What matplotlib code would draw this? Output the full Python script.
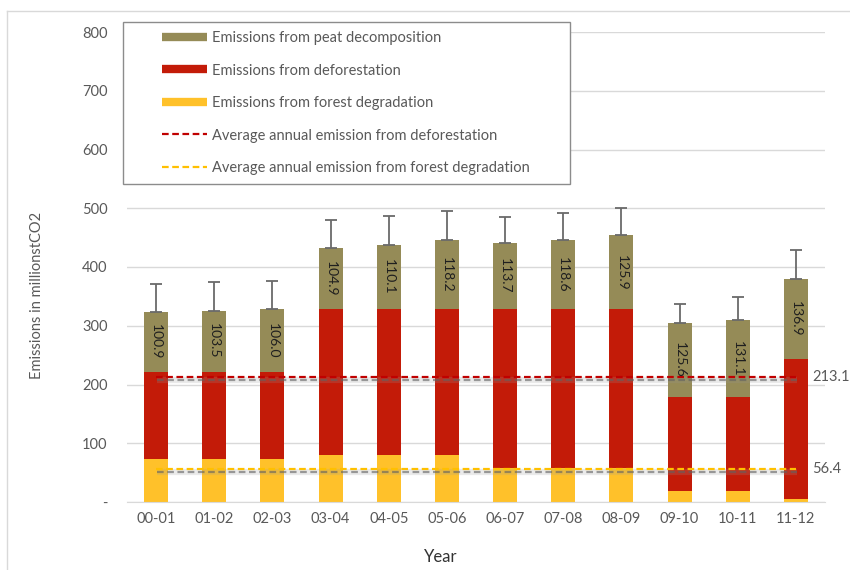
import matplotlib.pyplot as plt
import matplotlib.transforms as mtransforms
from matplotlib.lines import Line2D
from matplotlib.patches import Rectangle

plt.rcParams['font.family'] = ['Lato', 'DejaVu Sans']

years = ['00-01', '01-02', '02-03', '03-04', '04-05', '05-06',
         '06-07', '07-08', '08-09', '09-10', '10-11', '11-12']
degradation = [74, 74, 74, 80, 80, 80, 58, 58, 58, 18, 18, 5]
deforestation = [148, 148, 148, 248, 248, 248, 270, 270, 270, 161, 161, 238]
peat = [100.9, 103.5, 106.0, 104.9, 110.1, 118.2, 113.7, 118.6, 125.9, 125.6, 131.1, 136.9]
peat_err = [49, 49, 49, 47, 49, 49, 43, 45, 47, 32, 39, 49]
avg_deforestation = 213.1
avg_degradation = 56.4
y_ticks = [0, 100, 200, 300, 400, 500, 600, 700, 800]
y_ticklabels = ['-', '100', '200', '300', '400', '500', '600', '700', '800']

c_peat = '#958B57'
c_defor = '#C31B08'
c_degr = '#FFC12A'
grey_txt = '#595959'

fig = plt.figure(figsize=(8.5, 5.7), dpi=100)
ax = fig.add_axes([127 / 850, 68 / 570, 698 / 850, 470 / 570])

x = list(range(len(years)))
w = 0.41
base2 = [a + b for a, b in zip(degradation, deforestation)]
totals = [a + b for a, b in zip(base2, peat)]

ax.bar(x, degradation, w, color=c_degr, zorder=2)
ax.bar(x, deforestation, w, bottom=degradation, color=c_defor, zorder=2)
ax.bar(x, peat, w, bottom=base2, color=c_peat, zorder=2)
ax.errorbar(x, totals, yerr=[[0] * len(x), peat_err], fmt='none',
            ecolor='#6A6A6A', elinewidth=1.3, capsize=4, capthick=1.3, zorder=3)

# value labels inside the peat segment
for xi, b, p in zip(x, base2, peat):
    ax.text(xi, b + p / 2, f'{p:.1f}', rotation=270, ha='center', va='center',
            fontsize=10, color='#1F1F1F', zorder=5)

# average lines with a soft grey shadow underneath
shadow = mtransforms.offset_copy(ax.transData, fig=fig, x=0.5, y=-2.5, units='points')
xs = [x[0], x[-1]]
for val, col in [(avg_deforestation, '#C00000'), (avg_degradation, '#FFC000')]:
    ax.plot(xs, [val, val], color='#9A9A9A', lw=4.5, alpha=0.2,
            solid_capstyle='butt', transform=shadow, zorder=3)
    ax.plot(xs, [val, val], color='#606060', lw=1.6, alpha=0.6,
            ls=(0, (3, 1.6)), transform=shadow, zorder=3)
    ax.plot(xs, [val, val], color=col, lw=1.6, ls=(0, (3, 1.6)), zorder=4)
    ax.text(0.982, val, f'{val:.1f}', transform=ax.get_yaxis_transform(),
            ha='left', va='center', fontsize=10.5, color=grey_txt)

ax.set_xlim(-0.5, len(years) - 0.5)
ax.set_ylim(0, 800)
ax.set_yticks(y_ticks)
ax.set_yticklabels(y_ticklabels)
ax.set_xticks(x)
ax.set_xticklabels(years)
ax.tick_params(axis='y', length=0, pad=14, labelsize=10.5, labelcolor=grey_txt)
ax.tick_params(axis='x', length=0, pad=7, labelsize=10.5, labelcolor=grey_txt)
ax.grid(axis='y', color='#D9D9D9', lw=1)
ax.set_axisbelow(True)
for s in ['top', 'right', 'left']:
    ax.spines[s].set_visible(False)
ax.spines['bottom'].set_color('#D9D9D9')

fig.text(37 / 850, 1 - 295 / 570, 'Emissions in millionstCO2', rotation=90,
         ha='center', va='center', fontsize=10.5, color=grey_txt)
fig.text(441 / 850, 1 - 557 / 570, 'Year', ha='center', va='center',
         fontsize=12, color='#333333')

# legend box
ax.add_patch(Rectangle((-4 / 698, 318 / 470), 447 / 698, 162 / 470,
                       transform=ax.transAxes, fc='white', ec='#8C8C8C',
                       lw=1, clip_on=False, zorder=6))
handles = [
    Line2D([], [], color=c_peat, lw=6, solid_capstyle='butt'),
    Line2D([], [], color=c_defor, lw=6, solid_capstyle='butt'),
    Line2D([], [], color=c_degr, lw=6, solid_capstyle='butt'),
    Line2D([], [], color='#C00000', lw=1.6, ls=(0, (3, 1.6))),
    Line2D([], [], color='#FFC000', lw=1.6, ls=(0, (3, 1.6))),
]
labels = ['Emissions from peat decomposition',
          'Emissions from deforestation',
          'Emissions from forest degradation',
          'Average annual emission from deforestation',
          'Average annual emission from forest degradation']
leg = ax.legend(handles, labels, loc='upper left',
                bbox_to_anchor=(35 / 698, 471 / 470), frameon=False,
                fontsize=10.5, handlelength=3.1, handletextpad=0.35,
                labelspacing=1.27, borderpad=0, borderaxespad=0)
leg.set_zorder(7)
for t in leg.get_texts():
    t.set_color(grey_txt)

# outer chart border
fig.add_artist(Line2D([7 / 850, 7 / 850], [0, 1 - 11 / 570], color='#D9D9D9', lw=1))
fig.add_artist(Line2D([7 / 850, 1], [1 - 11 / 570, 1 - 11 / 570], color='#D9D9D9', lw=1))

fig.savefig('out.png', dpi=100)
